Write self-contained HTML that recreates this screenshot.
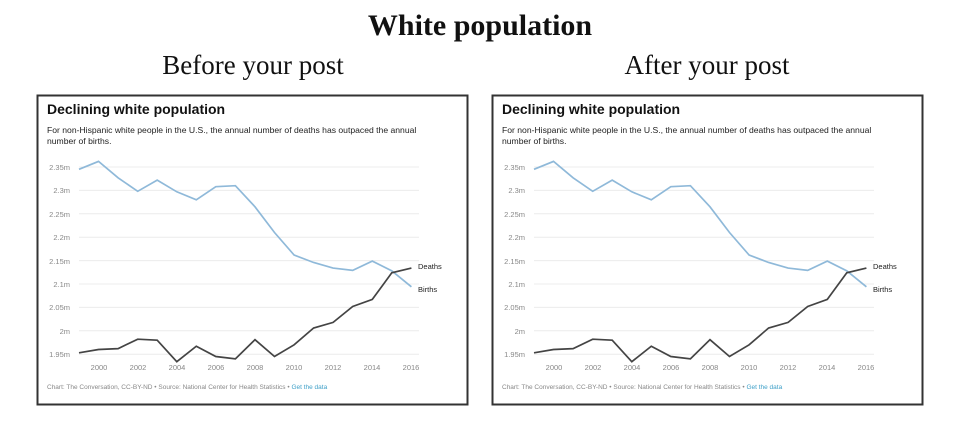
<!DOCTYPE html>
<html><head><meta charset="utf-8"><style>
body{margin:0;background:#fff;width:959px;height:427px;overflow:hidden;position:relative;font-family:"Liberation Sans",sans-serif}
.t{position:absolute;font-family:"Liberation Serif",serif;color:#111;white-space:nowrap;transform:translateX(-50%)}
svg{position:absolute;top:0;left:0}
</style></head><body>
<div class="t" style="left:480px;top:9px;font-size:30px;font-weight:bold">White population</div>
<div class="t" style="left:253px;top:50px;font-size:27px">Before your post</div>
<div class="t" style="left:707px;top:50px;font-size:27px">After your post</div>
<svg width="959" height="427" xmlns="http://www.w3.org/2000/svg" font-family="Liberation Sans, sans-serif">
<defs>
<g id="p">
<rect x="0.5" y="0.5" width="430" height="309" fill="#fff" stroke="#333" stroke-width="2"/>
<text x="10" y="19" font-size="14" font-weight="bold" fill="#111">Declining white population</text>
<text x="10" y="38" font-size="8.6" fill="#222">For non-Hispanic white people in the U.S., the annual number of deaths has outpaced the annual</text>
<text x="10" y="49" font-size="8.6" fill="#222">number of births.</text>
<g stroke="#ececec" stroke-width="1">
<line x1="42" x2="382" y1="72" y2="72"/><line x1="42" x2="382" y1="95.4" y2="95.4"/><line x1="42" x2="382" y1="118.8" y2="118.8"/><line x1="42" x2="382" y1="142.2" y2="142.2"/><line x1="42" x2="382" y1="165.6" y2="165.6"/><line x1="42" x2="382" y1="189" y2="189"/><line x1="42" x2="382" y1="212.4" y2="212.4"/><line x1="42" x2="382" y1="235.8" y2="235.8"/><line x1="42" x2="382" y1="259.2" y2="259.2"/>
</g>
<g font-size="7.5" fill="#888" text-anchor="end">
<text x="33" y="75">2.35m</text><text x="33" y="98">2.3m</text><text x="33" y="122">2.25m</text><text x="33" y="145">2.2m</text><text x="33" y="169">2.15m</text><text x="33" y="192">2.1m</text><text x="33" y="215">2.05m</text><text x="33" y="239">2m</text><text x="33" y="262">1.95m</text>
</g>
<g font-size="7.5" fill="#888" text-anchor="middle">
<text x="62" y="275">2000</text><text x="101" y="275">2002</text><text x="140" y="275">2004</text><text x="179" y="275">2006</text><text x="218" y="275">2008</text><text x="257" y="275">2010</text><text x="296" y="275">2012</text><text x="335" y="275">2014</text><text x="374" y="275">2016</text>
</g>
<polyline class="b" fill="none" stroke="#8fb9d9" stroke-width="1.7"/>
<polyline class="d" fill="none" stroke="#444" stroke-width="1.7"/>
<text x="381" y="174" font-size="7.5" fill="#222">Deaths</text>
<text x="381" y="197" font-size="7.5" fill="#222">Births</text>
<text x="10" y="294" font-size="6.5" fill="#888">Chart: The Conversation, CC-BY-ND • Source: National Center for Health Statistics • <tspan fill="#3fa0c8">Get the data</tspan></text>
</g>
</defs>
<use href="#p" x="37" y="95"/>
<use href="#p" x="492" y="95"/>
</svg>
<script>
var B=[2.345,2.362,2.327,2.298,2.322,2.297,2.280,2.308,2.310,2.265,2.210,2.162,2.146,2.134,2.129,2.149,2.128,2.094];
var D=[1.953,1.960,1.962,1.982,1.980,1.934,1.967,1.945,1.940,1.981,1.945,1.970,2.006,2.018,2.052,2.067,2.124,2.134];
function pts(a){return a.map(function(v,i){return (42+i*19.55).toFixed(1)+","+(259.2-(v-1.95)*468).toFixed(1)}).join(" ")}
document.querySelector("#p .b").setAttribute("points",pts(B));
document.querySelector("#p .d").setAttribute("points",pts(D));
</script>
</body></html>
